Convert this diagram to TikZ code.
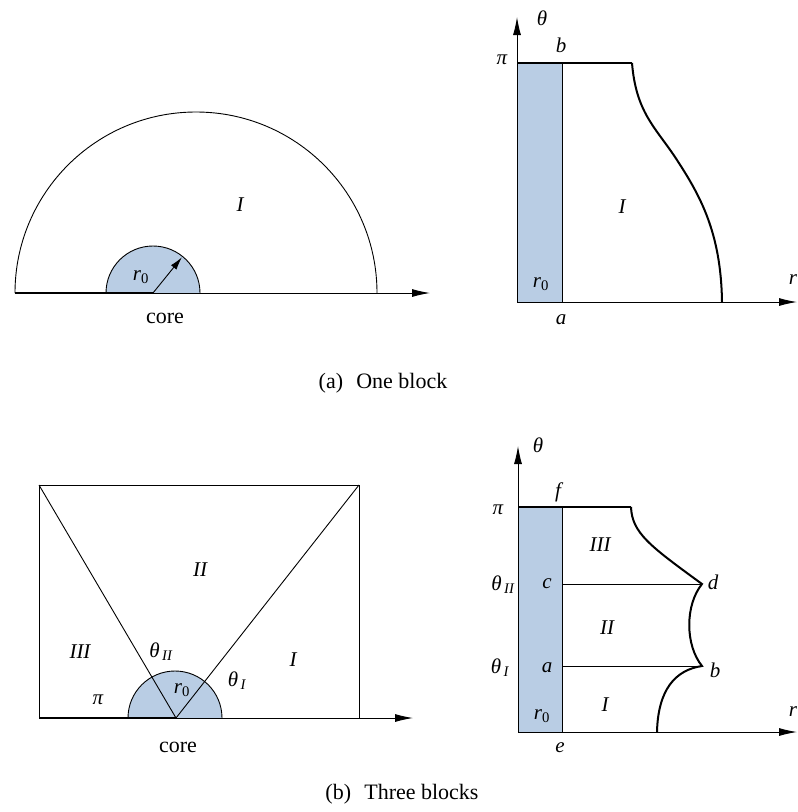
\documentclass[tikz,border=0pt]{standalone}
\usepackage{fontspec}
\setmainfont{Liberation Serif}
\usetikzlibrary{arrows.meta}
\definecolor{coreblue}{RGB}{185,205,228}
\tikzset{
  lab/.style={font=\fontsize{21}{25}\selectfont\itshape, inner sep=0pt},
  txt/.style={font=\fontsize{22}{26}\selectfont, inner sep=0pt},
  axisarrow/.style={line width=0.9pt, -{Latex[length=18pt,width=8pt]}},
  edge/.style={line width=0.9pt},
  heavy/.style={line width=2.8pt},
  bold curve/.style={line width=2pt},
  coredisc/.style={fill=coreblue},
}
\begin{document}
\begin{tikzpicture}[x=1pt,y=-1pt]
\useasboundingbox (0,0) rectangle (798,812);

% ---------- (a) left ----------
\coordinate (A0) at (153,293);
\coordinate (AL) at (15,293);
\coordinate (AR) at (430,293);
\fill[coredisc] (106,293) arc[start angle=180,end angle=0,radius=47pt] -- cycle;
\draw[edge] (106,293) arc[start angle=180,end angle=0,radius=47pt];
\draw[edge] (AL) arc[start angle=180,end angle=0,radius=181pt];
\draw[axisarrow] (A0) -- (AR);
\draw[heavy] (AL) -- (A0);
\draw[edge,-{Latex[length=13pt,width=7pt]}] (A0) -- ++(51:46pt) coordinate (AT);
\node[lab] (ar0) at (141,277) {r\textsubscript{\upshape 0}};
\node[lab] (aI) at (240,205) {I};
\node[txt] (acore) at (165,318) {core};

% ---------- (a) right ----------
\coordinate (B0) at (517,302);
\coordinate (Bpi) at (517,63);
\coordinate (Bb) at (562,63);
\coordinate (Ba) at (562,302);
\coordinate (Bt) at (632,63);
\coordinate (Be) at (722,302);
\fill[coreblue] (Bpi) rectangle (Ba);
\draw[edge] (Bb) -- (Ba);
\draw[line width=1.3pt] (Bpi) -- (Bt);
\draw[bold curve] (Bt) .. controls (636,112) and (655,127) .. (675,157)
      .. controls (700,195) and (721,232) .. (Be);
\draw[axisarrow] (B0) -- (797,302);
\draw[axisarrow] (B0) -- (517,17);
\node[lab] (btheta) at (542,18) {θ};
\node[lab] (bb) at (561,45) {b};
\node[lab] (bpi) at (502,60) {π};
\node[lab] (br0) at (541,284) {r\textsubscript{\upshape 0}};
\node[lab] (ba) at (561,320) {a};
\node[lab] (bI) at (622,207) {I};
\node[lab] (br) at (793,280) {r};

\node[txt] (capa) at (383,383) {(a)\hspace{0.35em} One block};

% ---------- (b) left ----------
\coordinate (C0) at (176,718);
\coordinate (CTL) at (39,485);
\coordinate (CTR) at (359,485);
\coordinate (CBL) at (39,718);
\coordinate (CBR) at (359,718);
\fill[coredisc] (128,718) arc[start angle=180,end angle=0,radius=47pt] -- cycle;
\draw[edge] (128,718) arc[start angle=180,end angle=0,radius=47pt];
\draw[edge] (CBL) -- (CTL) -- (CTR) -- (CBR);
\draw[edge] (CTL) -- (C0) -- (CTR);
\draw[axisarrow] (C0) -- (413,718);
\draw[heavy] (CBL) -- (C0);
\node[lab] (cII) at (200,570) {II};
\node[lab] (cIII) at (80,652) {III};
\node[lab] (cthII) at (161,652) {θ\textsubscript{\,II}};
\node[lab] (cI) at (293,660) {I};
\node[lab] (cthI) at (237,681) {θ\textsubscript{\,I}};
\node[lab] (cpi) at (98,700) {π};
\node[lab] (cr0) at (182,690) {r\textsubscript{\upshape 0}};
\node[txt] (ccore) at (178,747) {core};

% ---------- (b) right ----------
\coordinate (D0) at (518,732);
\coordinate (Dpi) at (518,507);
\coordinate (Df) at (562,507);
\coordinate (De) at (562,732);
\coordinate (Dt) at (631,507);
\coordinate (Dc) at (562,584);
\coordinate (Dd) at (702,584);
\coordinate (Da) at (562,666);
\coordinate (Db) at (702,666);
\coordinate (Dbot) at (657,732);
\fill[coreblue] (Dpi) rectangle (De);
\draw[edge] (Df) -- (De);
\draw[line width=1.3pt] (Dpi) -- (Dt);
\draw[edge] (Dc) -- (Dd);
\draw[edge] (Da) -- (Db);
\draw[bold curve] (Dt) .. controls (632,533) and (650,546) .. (Dd)
      .. controls (685,605) and (685,645) .. (Db)
      .. controls (675,670) and (658,690) .. (Dbot);
\draw[axisarrow] (D0) -- (797,732);
\draw[axisarrow] (D0) -- (518,446);
\node[lab] (dtheta) at (538,445) {θ};
\node[lab] (df) at (558,492) {f};
\node[lab] (dpi) at (498,510) {π};
\node[lab] (dthII) at (503,585) {θ\textsubscript{\,II}};
\node[lab] (dc) at (547,584) {c};
\node[lab] (dd) at (713,582) {d};
\node[lab] (dIII) at (600,545) {III};
\node[lab] (dII) at (607,628) {II};
\node[lab] (dthI) at (500,668) {θ\textsubscript{\,I}};
\node[lab] (da) at (547,668) {a};
\node[lab] (db) at (715,670) {b};
\node[lab] (dI) at (605,705) {I};
\node[lab] (dr0) at (542,716) {r\textsubscript{\upshape 0}};
\node[lab] (de) at (560,748) {e};
\node[lab] (dr) at (793,712) {r};

\node[txt] (capb) at (402,794) {(b)\hspace{0.35em} Three blocks};
\end{tikzpicture}
\end{document}
